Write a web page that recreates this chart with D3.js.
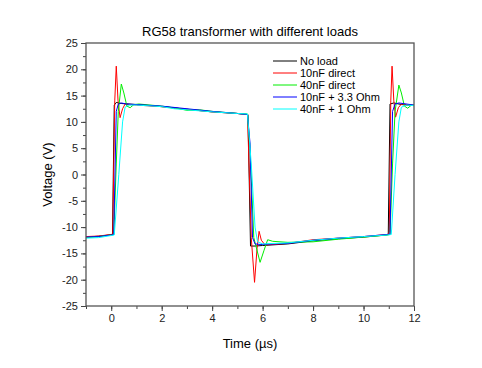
<!DOCTYPE html>
<html>
<head>
<meta charset="utf-8">
<script src="https://cdn.jsdelivr.net/npm/d3@7"></script>
<style>
  body { margin: 0; background: #fff; }
  text { font-family: "Liberation Sans", Arial, sans-serif; }
</style>
</head>
<body>
<div id="mainDiv"></div>
<script>
// series names as in legend
var seriesNames = ["No load", "10nF direct", "40nF direct", "10nF + 3.3 Ohm", "40nF + 1 Ohm"];
var seriesColors = ["#000000", "#ff0000", "#00ee00", "#0000ff", "#00ffff"];

// [time in us, voltage in V]
var noLoad = [[-1,-11.9],[-0.7,-11.8],[-0.4,-11.7],[-0.1,-11.5],[0.05,-11.4],[0.12,13.2],[0.2,13.7],[0.4,13.5],
  [1,13.3],[2,12.9],[3,12.4],[4,11.9],[5,11.6],[5.42,11.4],[5.52,-13.6],[5.7,-13.6],[6,-13.5],[7,-13.2],
  [8,-12.6],[9,-12.2],[10,-11.9],[10.9,-11.5],[10.98,-11.4],[11.05,13.4],[11.2,13.6],[11.5,13.3],[12,13.1]];
var direct10 = [[-1,-11.8],[-0.5,-11.7],[0,-11.4],[0.06,-11.3],[0.14,14],[0.2,20.6],[0.27,14],[0.35,10.8],
  [0.45,12.5],[0.55,13.4],[0.7,13.3],[1,13.2],[2,12.9],[3,12.4],[4,11.9],[5,11.6],[5.4,11.4],[5.55,-12],
  [5.68,-20.5],[5.78,-14],[5.86,-10.8],[5.95,-12.5],[6.1,-13.4],[7,-13.1],[8,-12.4],[9,-12.1],[10,-11.8],
  [10.95,-11.4],[11.02,-11],[11.08,14],[11.13,20.6],[11.2,14],[11.27,10.9],[11.38,12.7],[11.5,13.4],[12,13.1]];
var direct40 = [[-1,-12],[-0.5,-11.8],[0,-11.5],[0.1,-11.4],[0.2,2],[0.28,12],[0.4,17.2],[0.5,15.5],[0.62,13],
  [0.75,12.7],[0.9,13.3],[1.1,13.4],[2,13],[2.6,12.6],[3,12.2],[3.5,12.3],[4,12],[5,11.6],[5.4,11.5],[5.5,5],
  [5.65,-12],[5.9,-16.7],[6.05,-14.5],[6.2,-12.4],[6.4,-12.7],[7,-12.9],[8,-12.8],[9,-12.3],[10,-11.9],
  [10.95,-11.5],[11.05,-11.4],[11.15,2],[11.25,12],[11.4,17],[11.5,15.5],[11.62,13],[11.75,12.6],[11.9,13.2],[12,13.2]];
var r33 = [[-1,-11.9],[-0.5,-11.8],[0,-11.5],[0.1,-11.4],[0.2,12],[0.28,13.4],[0.4,13.6],[0.6,13.4],[1,13.3],
  [2,13],[3,12.5],[4,12],[5,11.6],[5.4,11.4],[5.5,6],[5.6,-12],[5.7,-13.2],[5.9,-13.3],[7,-13.1],[8,-12.5],
  [9,-12.1],[10,-11.8],[10.95,-11.4],[11.05,-11.3],[11.15,12],[11.25,13.4],[11.4,13.6],[12,13.2]];
var r1 = [[-1,-12.1],[-0.5,-12],[0,-11.6],[0.12,-11.5],[0.3,0],[0.45,10],[0.55,12.8],[0.7,13.2],[1,13.2],
  [2,12.9],[2.5,12.5],[3,12.3],[4,11.9],[5,11.6],[5.4,11.5],[5.55,2],[5.7,-10],[5.8,-12.8],[6,-13.2],[7,-13],
  [8,-12.5],[9,-12.1],[10,-11.8],[10.95,-11.5],[11.1,-11.4],[11.25,0],[11.4,10],[11.5,12.8],[11.7,13.2],[12,13.1]];
var seriesData = [noLoad, direct10, direct40, r33, r1];

var xTicks = [0, 2, 4, 6, 8, 10, 12];
var yTicks = [-25, -20, -15, -10, -5, 0, 5, 10, 15, 20, 25];

var svg = d3.select("#mainDiv").append("svg").attr("width", 482).attr("height", 368);

var pLeft = 86, pRight = 414, pTop = 43, pBottom = 306;
var x = d3.scaleLinear().domain([-1, 12]).range([pLeft, pRight]);
var y = d3.scaleLinear().domain([-25, 25]).range([pBottom, pTop]);

svg.append("clipPath").attr("id", "clip").append("rect")
    .attr("x", pLeft).attr("y", pTop).attr("width", pRight - pLeft).attr("height", pBottom - pTop);

var line = d3.line().x(function(d) { return x(d[0]); }).y(function(d) { return y(d[1]); });

var plot = svg.append("g").attr("clip-path", "url(#clip)");
seriesData.forEach(function(s, i) {
    plot.append("path")
        .attr("d", line(s))
        .attr("fill", "none")
        .attr("stroke", seriesColors[i])
        .attr("stroke-width", 1);
});

// minor ticks
var xAxisMinor = d3.axisBottom(x).tickValues(d3.range(-1, 13, 1)).tickSize(3).tickFormat("");
var yAxisMinor = d3.axisLeft(y).tickValues(d3.range(-25, 26, 2.5)).tickSize(3).tickFormat("");
svg.append("g").attr("transform", "translate(0," + pBottom + ")").call(xAxisMinor);
svg.append("g").attr("transform", "translate(" + pLeft + ",0)").call(yAxisMinor);

// major ticks
var xAxis = d3.axisBottom(x).tickValues(xTicks).tickSize(5).tickFormat(function(d) { return String(d); });
var yAxis = d3.axisLeft(y).tickValues(yTicks).tickSize(5).tickFormat(function(d) { return String(d); });
svg.append("g").attr("class", "ax").attr("transform", "translate(0," + pBottom + ")").call(xAxis);
svg.append("g").attr("class", "ax").attr("transform", "translate(" + pLeft + ",0)").call(yAxis);

svg.selectAll(".domain").remove();
svg.selectAll(".tick line").attr("stroke", "#444");
svg.selectAll(".ax text").attr("font-size", 11).attr("fill", "#222")
    .style("font-family", "'Liberation Sans', Arial, sans-serif");

// frame
svg.append("rect")
    .attr("x", pLeft).attr("y", pTop).attr("width", pRight - pLeft).attr("height", pBottom - pTop)
    .attr("fill", "none").attr("stroke", "#555").attr("stroke-width", 1.3);

// title and labels
svg.append("text").attr("x", 250).attr("y", 36).attr("text-anchor", "middle")
    .attr("font-size", 13).text("RG58 transformer with different loads");
svg.append("text").attr("x", 250).attr("y", 348).attr("text-anchor", "middle")
    .attr("font-size", 13).text("Time (\u00b5s)");
svg.append("text").attr("transform", "translate(52," + y(0) + ") rotate(-90)")
    .attr("text-anchor", "middle").attr("font-size", 13).text("Voltage (V)");

// legend
seriesNames.forEach(function(name, i) {
    var ly = 61 + i * 12;
    svg.append("line").attr("x1", 273).attr("x2", 297).attr("y1", ly).attr("y2", ly)
        .attr("stroke", seriesColors[i]).attr("stroke-width", 1);
    svg.append("text").attr("x", 300).attr("y", ly).attr("dy", "0.35em")
        .attr("font-size", 11).text(name);
});
</script>
</body>
</html>
